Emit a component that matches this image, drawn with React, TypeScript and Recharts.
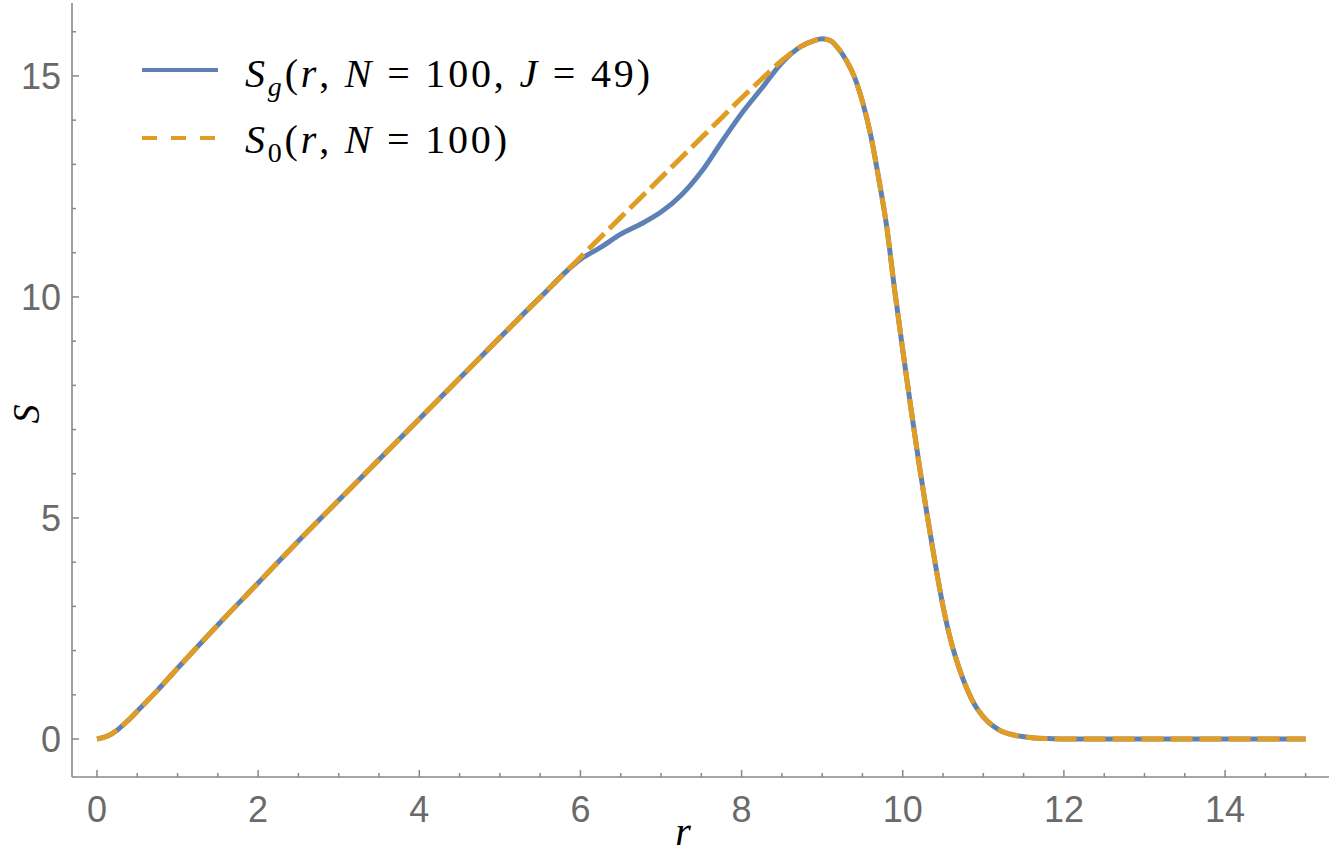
import { Label, Legend, Line, LineChart, XAxis, YAxis } from "recharts";

const rValues = [
  0, 0.125, 0.25, 0.375, 0.5, 0.75, 1, 1.5, 2, 2.5, 3, 3.5, 4, 4.5, 5, 5.5, 6,
  6.25, 6.5, 6.75, 7, 7.25, 7.5, 7.75, 8, 8.25, 8.5, 8.75, 8.9, 9, 9.1, 9.2,
  9.3, 9.4, 9.5, 9.6, 9.7, 9.8, 9.9, 10, 10.1, 10.2, 10.3, 10.4, 10.5, 10.6,
  10.7, 10.8, 10.9, 11, 11.2, 11.4, 11.6, 11.8, 12, 13, 14, 15,
];
const s0Values = [
  0, 0.06, 0.2, 0.4, 0.63, 1.1, 1.6, 2.58, 3.53, 4.48, 5.4, 6.32, 7.24, 8.16,
  9.08, 9.99, 10.9, 11.35, 11.8, 12.25, 12.7, 13.15, 13.6, 14.05, 14.5, 14.93,
  15.35, 15.68, 15.8, 15.84, 15.8, 15.62, 15.35, 14.98, 14.42, 13.68, 12.7,
  11.6, 10.15, 8.8, 7.5, 6.25, 5.1, 4.0, 3.0, 2.2, 1.6, 1.12, 0.75, 0.5, 0.2,
  0.08, 0.03, 0.01, 0, 0, 0, 0,
];
const sgValues = [
  0, 0.06, 0.2, 0.4, 0.63, 1.1, 1.6, 2.58, 3.53, 4.48, 5.4, 6.32, 7.24, 8.16,
  9.08, 9.99, 10.85, 11.12, 11.42, 11.65, 11.92, 12.3, 12.83, 13.5, 14.15,
  14.72, 15.3, 15.68, 15.8, 15.84, 15.8, 15.62, 15.35, 14.98, 14.42, 13.68,
  12.7, 11.6, 10.15, 8.8, 7.5, 6.25, 5.1, 4.0, 3.0, 2.2, 1.6, 1.12, 0.75, 0.5,
  0.2, 0.08, 0.03, 0.01, 0, 0, 0, 0,
];

const xTicks = Array.from({ length: 31 }, (_, i) => i * 0.5);
const yTicks = Array.from({ length: 17 }, (_, i) => i);
const xMajor = [0, 2, 4, 6, 8, 10, 12, 14];
const yMajor = [0, 5, 10, 15];

const data = rValues.map((r, i) => ({ r, s0: s0Values[i], sg: sgValues[i] }));

const frameColor = "#888888";
const labelColor = "#6a6a6a";
const tickFont = "Liberation Sans, Arial, sans-serif";
const mathFont = "'Times New Roman', Times, 'Liberation Serif', 'DejaVu Serif', serif";
const blue = "#5E81B5";
const orange = "#E19C24";

const tickText = { fontFamily: tickFont, fontSize: 36 };
const mathText = { fontFamily: mathFont };

function BottomTick({ x, y, payload }: any) {
  const major = xMajor.includes(payload.value);
  return (
    <g>
      <line x1={x} y1={y} x2={x} y2={y - (major ? 7 : 4)} stroke={frameColor} strokeWidth={1.5} />
      {major && (
        <text x={x} y={y + 45} textAnchor="middle" fill={labelColor} style={tickText}>
          {payload.value}
        </text>
      )}
    </g>
  );
}

function TopTick({ x, y, payload }: any) {
  const major = xMajor.includes(payload.value);
  return <line x1={x} y1={y} x2={x} y2={y + (major ? 7 : 4)} stroke={frameColor} strokeWidth={1.5} />;
}

function LeftTick({ x, y, payload }: any) {
  const major = yMajor.includes(payload.value);
  return (
    <g>
      <line x1={x} y1={y} x2={x + (major ? 7 : 4)} y2={y} stroke={frameColor} strokeWidth={1.5} />
      {major && (
        <text x={x - 11} y={y + 13} textAnchor="end" fill={labelColor} style={tickText}>
          {payload.value}
        </text>
      )}
    </g>
  );
}

function RightTick({ x, y, payload }: any) {
  const major = yMajor.includes(payload.value);
  return <line x1={x} y1={y} x2={x - (major ? 7 : 4)} y2={y} stroke={frameColor} strokeWidth={1.5} />;
}

function MathLegend() {
  return (
    <svg width={700} height={180} style={{ display: "block" }}>
      <line x1={142} y1={70} x2={218} y2={70} stroke={blue} strokeWidth={4} />
      <line x1={142} y1={138} x2={218} y2={138} stroke={orange} strokeWidth={4} strokeDasharray="15 14" />
      <text x={245} y={87} fill="#000" textLength={405} lengthAdjust="spacing" style={{ ...mathText, fontSize: 40 }}>
        <tspan fontStyle="italic">S</tspan>
        <tspan fontStyle="italic" fontSize={28} dy={9}>g</tspan>
        <tspan dy={-9}>(</tspan>
        <tspan fontStyle="italic">r</tspan>
        <tspan>, </tspan>
        <tspan fontStyle="italic">N</tspan>
        <tspan> = 100, </tspan>
        <tspan fontStyle="italic">J</tspan>
        <tspan> = 49)</tspan>
      </text>
      <text x={245} y={153} fill="#000" textLength={262} lengthAdjust="spacing" style={{ ...mathText, fontSize: 40 }}>
        <tspan fontStyle="italic">S</tspan>
        <tspan fontSize={28} dy={9}>0</tspan>
        <tspan dy={-9}>(</tspan>
        <tspan fontStyle="italic">r</tspan>
        <tspan>, </tspan>
        <tspan fontStyle="italic">N</tspan>
        <tspan> = 100)</tspan>
      </text>
    </svg>
  );
}

function XLabel() {
  return (
    <text x={683} y={845} textAnchor="middle" fill="#000" fontStyle="italic" style={{ ...mathText, fontSize: 40 }}>
      r
    </text>
  );
}

function YLabel() {
  return (
    <text
      transform="translate(39,414) rotate(-90)"
      textAnchor="middle"
      fill="#000"
      fontStyle="italic"
      style={{ ...mathText, fontSize: 38 }}
    >
      S
    </text>
  );
}

export default function App() {
  return (
    <div>
      <style>{`body { margin: 0; }`}</style>
      <LineChart
        width={1333}
        height={857}
        data={data}
        margin={{ top: 3, right: 4, bottom: 0, left: 0 }}
        style={{ background: "#fff" }}
      >
        <XAxis
          dataKey="r"
          type="number"
          domain={[-0.31, 15.29]}
          ticks={xTicks}
          interval={0}
          allowDataOverflow
          height={80}
          tickSize={0}
          tickMargin={0}
          tickLine={false}
          axisLine={{ stroke: frameColor, strokeWidth: 1.6 }}
          tick={<BottomTick />}
        >
          <Label content={<XLabel />} />
        </XAxis>
        <XAxis
          xAxisId="top"
          orientation="top"
          dataKey="r"
          type="number"
          domain={[-0.31, 15.29]}
          ticks={xTicks}
          interval={0}
          allowDataOverflow
          height={0}
          tickSize={0}
          tickMargin={0}
          tickLine={false}
          axisLine={{ stroke: frameColor, strokeWidth: 1.6 }}
          tick={<TopTick />}
        />
        <YAxis
          type="number"
          domain={[-0.86, 16.65]}
          ticks={yTicks}
          interval={0}
          allowDataOverflow
          width={72}
          tickSize={0}
          tickMargin={0}
          tickLine={false}
          axisLine={{ stroke: frameColor, strokeWidth: 1.6 }}
          tick={<LeftTick />}
        >
          <Label content={<YLabel />} />
        </YAxis>
        <YAxis
          yAxisId="right"
          orientation="right"
          type="number"
          domain={[-0.86, 16.65]}
          ticks={yTicks}
          interval={0}
          allowDataOverflow
          width={0}
          tickSize={0}
          tickMargin={0}
          tickLine={false}
          axisLine={{ stroke: frameColor, strokeWidth: 1.6 }}
          tick={<RightTick />}
        />
        <Legend
          layout="horizontal"
          verticalAlign="middle"
          align="center"
          content={() => <MathLegend />}
          wrapperStyle={{ top: 0, left: 0, width: 700, height: 180 }}
        />
        <Line
          type="monotone"
          dataKey="sg"
          stroke={blue}
          strokeWidth={5}
          dot={false}
          activeDot={false}
          isAnimationActive={false}
        />
        <Line
          type="monotone"
          dataKey="s0"
          stroke={orange}
          strokeWidth={5}
          strokeDasharray="22 7"
          dot={false}
          activeDot={false}
          isAnimationActive={false}
        />
      </LineChart>
    </div>
  );
}
